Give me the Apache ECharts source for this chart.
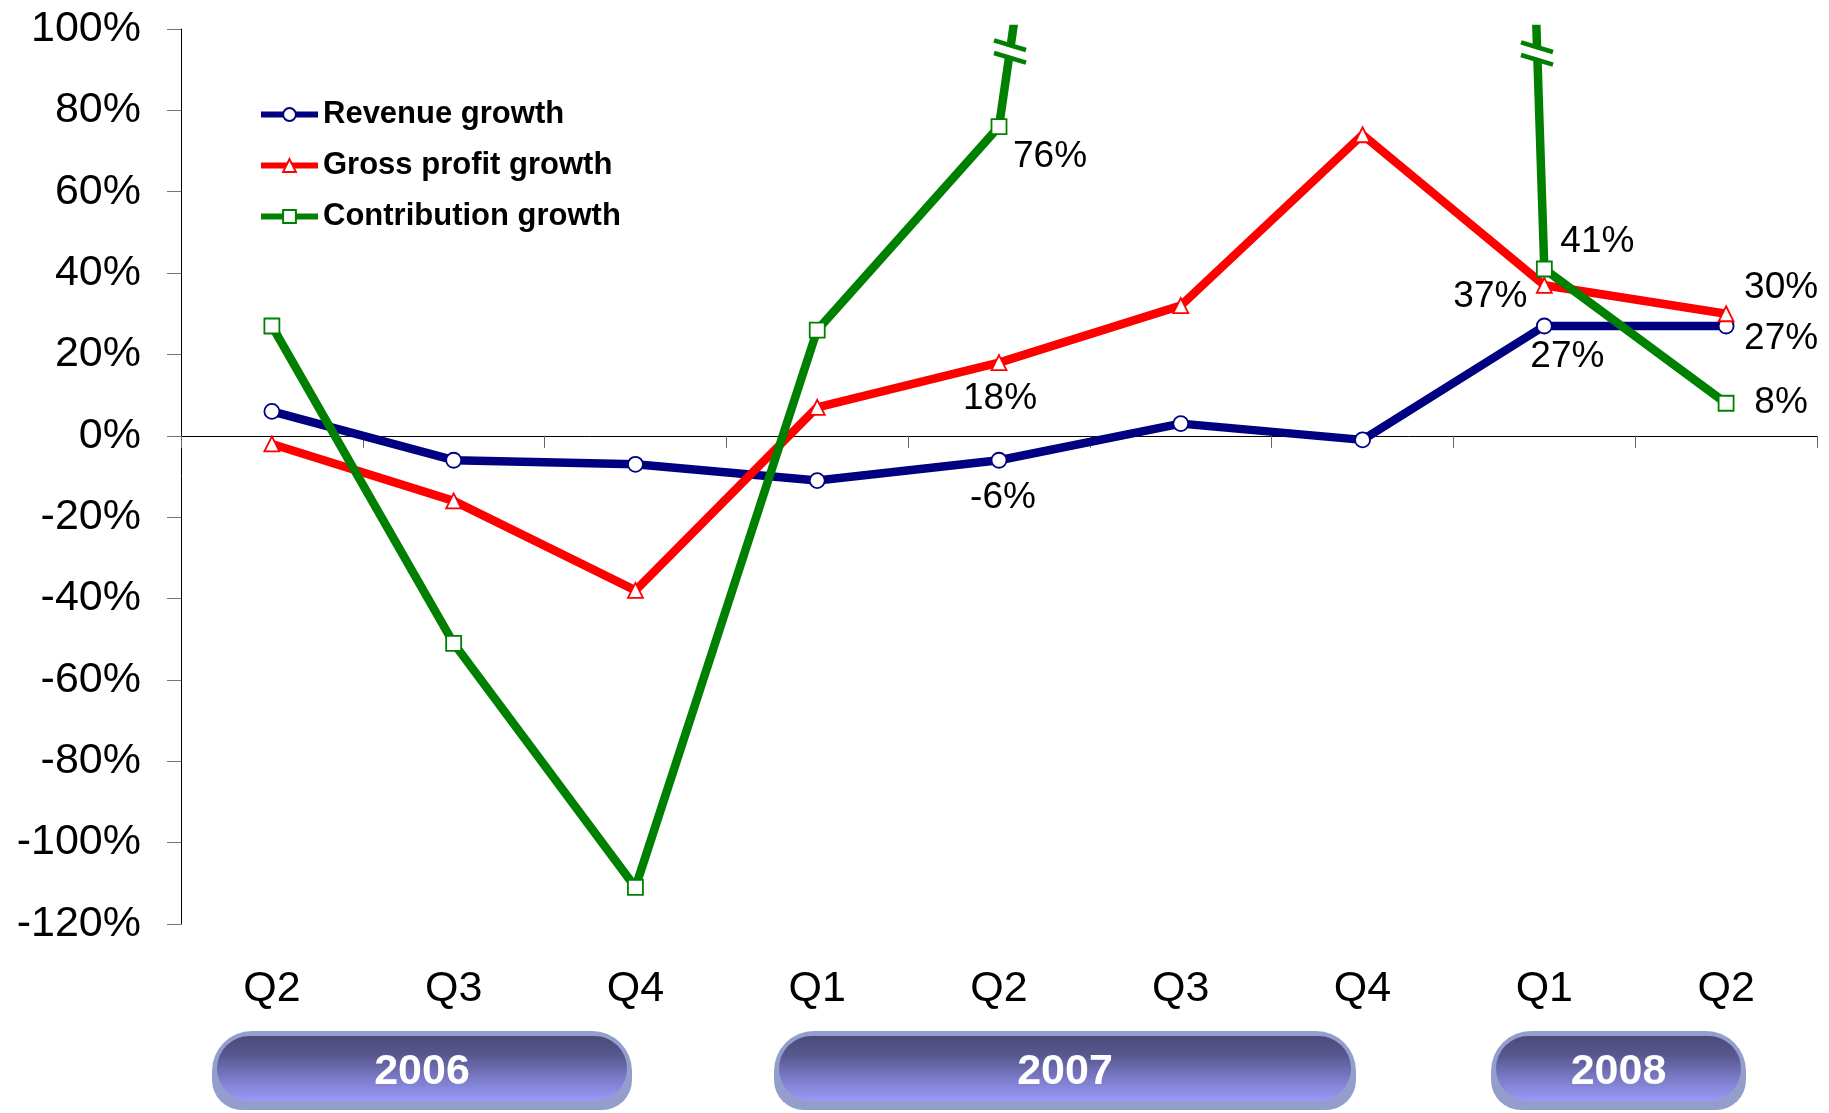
<!DOCTYPE html>
<html>
<head>
<meta charset="utf-8">
<script src="https://cdn.jsdelivr.net/npm/echarts@6/dist/echarts.min.js"></script>
<style>
html,body{margin:0;padding:0;background:#fff;}
#chart{width:1829px;height:1113px;}
</style>
</head>
<body>
<div id="chart"></div>
<script>
// ---- data ----
const categories = ['Q2', 'Q3', 'Q4', 'Q1', 'Q2', 'Q3', 'Q4', 'Q1', 'Q2'];
const years = ['2006', '2007', '2008'];
const seriesNames = ['Revenue growth', 'Gross profit growth', 'Contribution growth'];
const revenueGrowth = [6, -6, -7, -11, -6, 3, -1, 27, 27];
const grossProfitGrowth = [-2, -16, -38, 7, 18, 32, 74, 37, 30];
// Q3'07 and Q4'07 are off the scale (line is cut at the top of the chart)
const contributionGrowth = [27, -51, -111, 26, 76, 385, 1400, 41, 8];
const yMin = -120, yMax = 100, yStep = 20;

// ---- layout / style (not data) ----
const FONT = 'Arial, "Liberation Sans", sans-serif';
const colors = ['#000080', '#FF0000', '#008000'];
const symbols = ['circle', 'triangle', 'rect'];
// which points carry a value label, and the label offset in px
const labelOffsets = [
  {4: [4, 38], 7: [23, 31], 8: [55, 13]},
  {4: [1, 36], 7: [-54, 12], 8: [55, -26]},
  {4: [51, 30], 7: [53, -27], 8: [55, 0]}
];

const allValues = [revenueGrowth, grossProfitGrowth, contributionGrowth];

const series = allValues.map((vals, si) => ({
  name: seriesNames[si],
  type: 'line',
  xAxisIndex: 0,
  yAxisIndex: 0,
  symbol: symbols[si],
  symbolSize: 15,
  clip: true,
  z: 2 + si,
  lineStyle: {color: colors[si], width: 8.5},
  itemStyle: {color: '#ffffff', borderColor: colors[si], borderWidth: 1.8},
  emphasis: {disabled: true},
  data: vals.map((v, i) => {
    const off = labelOffsets[si][i];
    if (!off) return v;
    return {
      value: v,
      label: {
        show: true,
        position: 'inside',
        offset: off,
        formatter: '{c}%',
        color: '#000',
        fontSize: 37,
        fontFamily: FONT
      }
    };
  })
}));

const chart = echarts.init(document.getElementById('chart'), null, {renderer: 'canvas'});

// year pills (decoration below the axis)
const pills = [
  {x: 212, w: 420, text: years[0]},
  {x: 774, w: 582, text: years[1]},
  {x: 1491, w: 255, text: years[2]}
];
const pillY = 1031, pillH = 79;
const graphics = [];
pills.forEach(p => {
  graphics.push({
    type: 'rect',
    shape: {x: p.x, y: pillY, width: p.w, height: pillH, r: [40, 40, 30, 30]},
    style: {fill: '#939ecd'},
    z: 10
  });
  graphics.push({
    type: 'rect',
    shape: {x: p.x + 5, y: pillY + 5, width: p.w - 10, height: pillH - 14, r: 36},
    style: {
      fill: {
        type: 'linear', x: 0, y: 0, x2: 0, y2: 1,
        colorStops: [
          {offset: 0, color: '#4a4a7b'},
          {offset: 0.3, color: '#58588f'},
          {offset: 0.65, color: '#7a7ac8'},
          {offset: 1, color: '#9a9af8'}
        ]
      }
    },
    z: 11
  });
  graphics.push({
    type: 'text',
    x: p.x + p.w / 2,
    y: pillY + 41,
    style: {
      text: p.text,
      fill: '#ffffff',
      font: 'bold 43px ' + FONT,
      align: 'center',
      verticalAlign: 'middle'
    },
    z: 12
  });
});

// break marks on the contribution line where it leaves the scale
function breakMark(cx, cy) {
  const dx = 16, dy = 4.8, gap = 6.3;
  const items = [];
  items.push({
    type: 'line',
    shape: {x1: cx - 11, y1: cy - 3.3, x2: cx + 11, y2: cy + 3.3},
    style: {stroke: '#ffffff', lineWidth: 8},
    z: 20
  });
  [-gap, gap].forEach(o => {
    items.push({
      type: 'line',
      shape: {x1: cx - dx, y1: cy + o - dy, x2: cx + dx, y2: cy + o + dy},
      style: {stroke: '#008000', lineWidth: 4.5},
      z: 21
    });
  });
  return items;
}
graphics.push(...breakMark(1010, 51.5));
graphics.push(...breakMark(1537, 53.5));

chart.setOption({
  animation: false,
  backgroundColor: '#ffffff',
  grid: {left: 181, right: 12, top: 29, bottom: 189, containLabel: false},
  legend: {
    orient: 'vertical',
    left: 253,
    top: 94,
    itemWidth: 57,
    itemHeight: 16,
    itemGap: 20,
    data: seriesNames,
    selectedMode: false,
    textStyle: {fontSize: 31, fontWeight: 'bold', color: '#000', fontFamily: FONT},
    lineStyle: {width: 6}
  },
  xAxis: [
    {
      type: 'category',
      data: categories,
      position: 'bottom',
      boundaryGap: true,
      axisLine: {show: true, onZero: true, lineStyle: {color: '#000', width: 1}},
      axisTick: {show: true, length: 12, lineStyle: {color: '#666'}},
      axisLabel: {show: false},
      splitLine: {show: false}
    },
    {
      type: 'category',
      data: categories,
      position: 'bottom',
      boundaryGap: true,
      axisLine: {show: false, onZero: false},
      axisTick: {show: false},
      axisLabel: {show: true, margin: 44, fontSize: 43, color: '#000', fontFamily: FONT},
      splitLine: {show: false}
    }
  ],
  yAxis: {
    type: 'value',
    min: yMin,
    max: yMax,
    interval: yStep,
    axisLine: {show: true, lineStyle: {color: '#000', width: 1}},
    axisTick: {show: true, length: 14, lineStyle: {color: '#777'}},
    axisLabel: {margin: 40, fontSize: 43, color: '#000', fontFamily: FONT, formatter: '{value}%'},
    splitLine: {show: false}
  },
  graphic: {elements: graphics},
  series: series
});
</script>
</body>
</html>
